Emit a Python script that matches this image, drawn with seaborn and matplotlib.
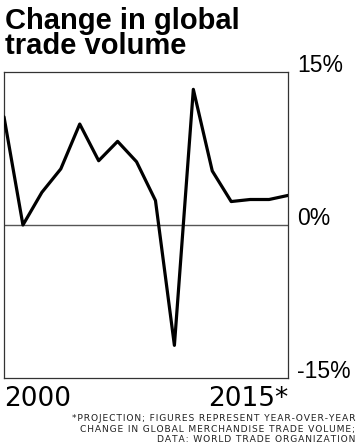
import matplotlib
matplotlib.use("Agg")
import matplotlib.pyplot as plt
import pandas as pd
import seaborn as sns

# Data
years = list(range(2000, 2016))
change = [10.6, 0.0, 3.2, 5.5, 9.9, 6.3, 8.2, 6.2, 2.4, -11.8,
          13.3, 5.3, 2.3, 2.5, 2.5, 2.9]
y_ticks = [-15, 0, 15]
y_labels = ["-15%", "0%", "15%"]
x_ticks = [2000, 2015]
x_labels = ["2000", "2015*"]
note_lines = [
    "*PROJECTION; FIGURES REPRESENT YEAR-OVER-YEAR",
    "CHANGE IN GLOBAL MERCHANDISE TRADE VOLUME;",
    "DATA: WORLD TRADE ORGANIZATION",
]

df = pd.DataFrame({"year": years, "change": change})

sns.set_style("white")
plt.rcParams["font.family"] = ["Liberation Sans", "DejaVu Sans"]
plt.rcParams["text.color"] = "black"

fig = plt.figure(figsize=(3.6, 4.46), dpi=100)
ax = fig.add_axes([4 / 360, (446 - 378) / 446, 284 / 360, 306 / 446])

ax.axhline(0, color="#555555", lw=1.0, zorder=1)
sns.lineplot(data=df, x="year", y="change", color="black", lw=2.3, ax=ax, zorder=3)

ax.set_xlim(2000, 2015)
ax.set_ylim(-15, 15)
ax.set_xlabel("")
ax.set_ylabel("")

for s in ax.spines.values():
    s.set_color("#333333")
    s.set_linewidth(0.9)

# y labels on the right, baseline sitting on the value
ax.yaxis.tick_right()
ax.set_yticks(y_ticks)
ax.set_yticklabels(y_labels, fontsize=16.5, va="baseline", color="black")
ax.tick_params(axis="y", length=0, pad=6.5)

ax.set_xticks(x_ticks)
ax.set_xticklabels(x_labels, fontsize=19, color="black", family=["DejaVu Sans"])
ax.tick_params(axis="x", length=0, pad=6)
xl = ax.get_xticklabels()
xl[0].set_ha("left")
xl[1].set_ha("right")

fig.text(0.013, 0.985, "Change in global\ntrade volume", fontsize=21,
         fontweight="bold", va="top", ha="left", linespacing=0.9)

# letter-spaced footnote
for i, line in enumerate(note_lines):
    spaced = "\u200a".join(line)
    fig.text(355 / 360, 1 - (421 + i * 10.7) / 446, spaced,
             fontsize=6.6, ha="right", va="baseline", color="#222222",
             family=["DejaVu Sans"])

fig.savefig("out.png", dpi=100)
